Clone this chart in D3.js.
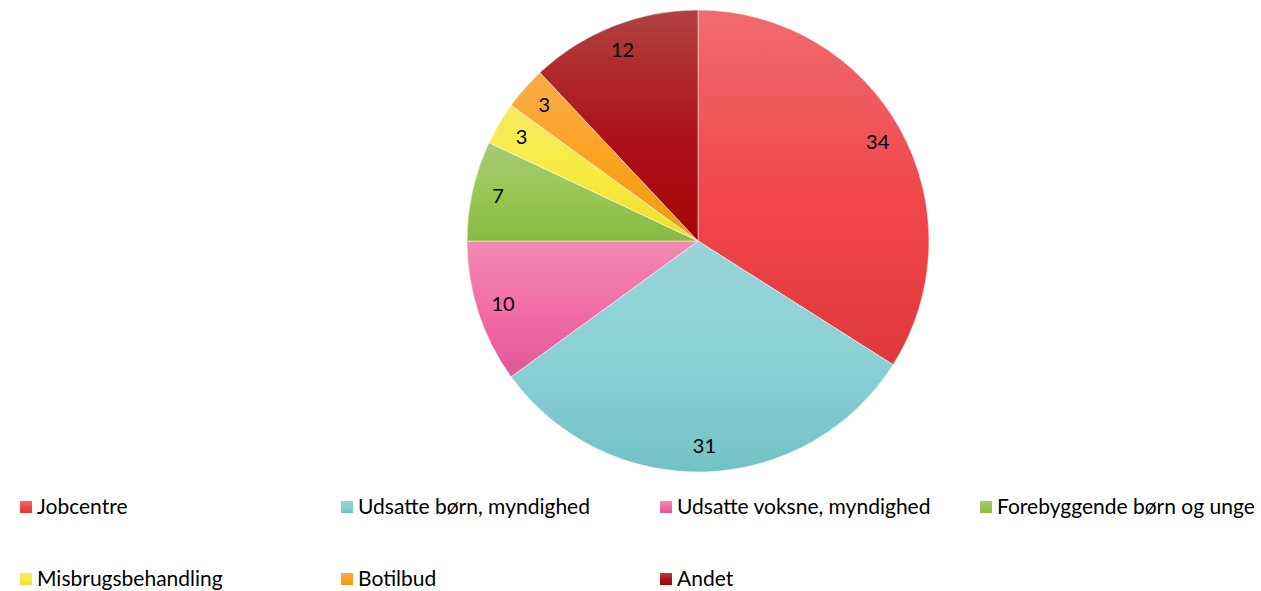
<!DOCTYPE html>
<html><head><meta charset="utf-8">
<script src="https://cdn.jsdelivr.net/npm/d3@7"></script>
<style>body{margin:0;background:#fff}svg{display:block}</style>
</head><body>
<svg id="c" width="1261" height="591"></svg>
<script>
const categories = ["Jobcentre","Udsatte børn, myndighed","Udsatte voksne, myndighed","Forebyggende børn og unge","Misbrugsbehandling","Botilbud","Andet"];
const values = [34,31,10,7,3,3,12];
const colorsTop = ["#EF6B6F","#98D4D8","#F18AB2","#A6CB72","#F6EC62","#FBAC48","#B14242"];
const colorsMid = ["#F14649","#88D0D5","#F26AA4","#97C653","#F7EB3E","#FAA21F","#AC1117"];
const colorsBottom = ["#E0393B","#73C1C6","#DF5897","#87BA43","#EEDD2E","#EF990F","#A40409"];

const svg = d3.select("#c");
const FONT = "Lato, 'Open Sans', sans-serif";
const defs = svg.append("defs");
categories.forEach((c,i)=>{
  const g = defs.append("linearGradient").attr("id","g"+i).attr("x1",0).attr("y1",0).attr("x2",0).attr("y2",1);
  g.append("stop").attr("offset","0%").attr("stop-color",colorsTop[i]);
  g.append("stop").attr("offset","55%").attr("stop-color",colorsMid[i]);
  g.append("stop").attr("offset","100%").attr("stop-color",colorsBottom[i]);
});

const cx = 698, cy = 241, R = 231;
const pie = d3.pie().sort(null).value(d=>d)(values);
const arc = d3.arc().innerRadius(0).outerRadius(R);
const labelArc = d3.arc().innerRadius(205).outerRadius(205);
const g = svg.append("g").attr("transform",`translate(${cx},${cy})`);
g.selectAll("path").data(pie).join("path")
  .attr("d",arc).attr("fill",(d,i)=>`url(#g${i})`)
  .attr("stroke","#fff").attr("stroke-width",0.5);
g.selectAll("text").data(pie).join("text")
  .attr("transform",d=>`translate(${labelArc.centroid(d)})`)
  .attr("text-anchor","middle").attr("dy","0.35em")
  .attr("font-family",FONT).attr("font-size",20).attr("fill","#000")
  .text(d=>d.data);

const colX = [20,341,660,980];
const rowY = [507,579];
const lg = svg.append("g");
categories.forEach((c,i)=>{
  const x = colX[i%4], y = rowY[Math.floor(i/4)];
  const it = lg.append("g").attr("transform",`translate(${x},${y})`);
  it.append("rect").attr("x",0).attr("y",-6).attr("width",12).attr("height",12).attr("fill",`url(#g${i})`);
  it.append("text").attr("x",17).attr("y",0).attr("dy","0.35em")
    .attr("font-family",FONT).attr("font-size",21).attr("fill","#000").text(c);
});
</script>
</body></html>
